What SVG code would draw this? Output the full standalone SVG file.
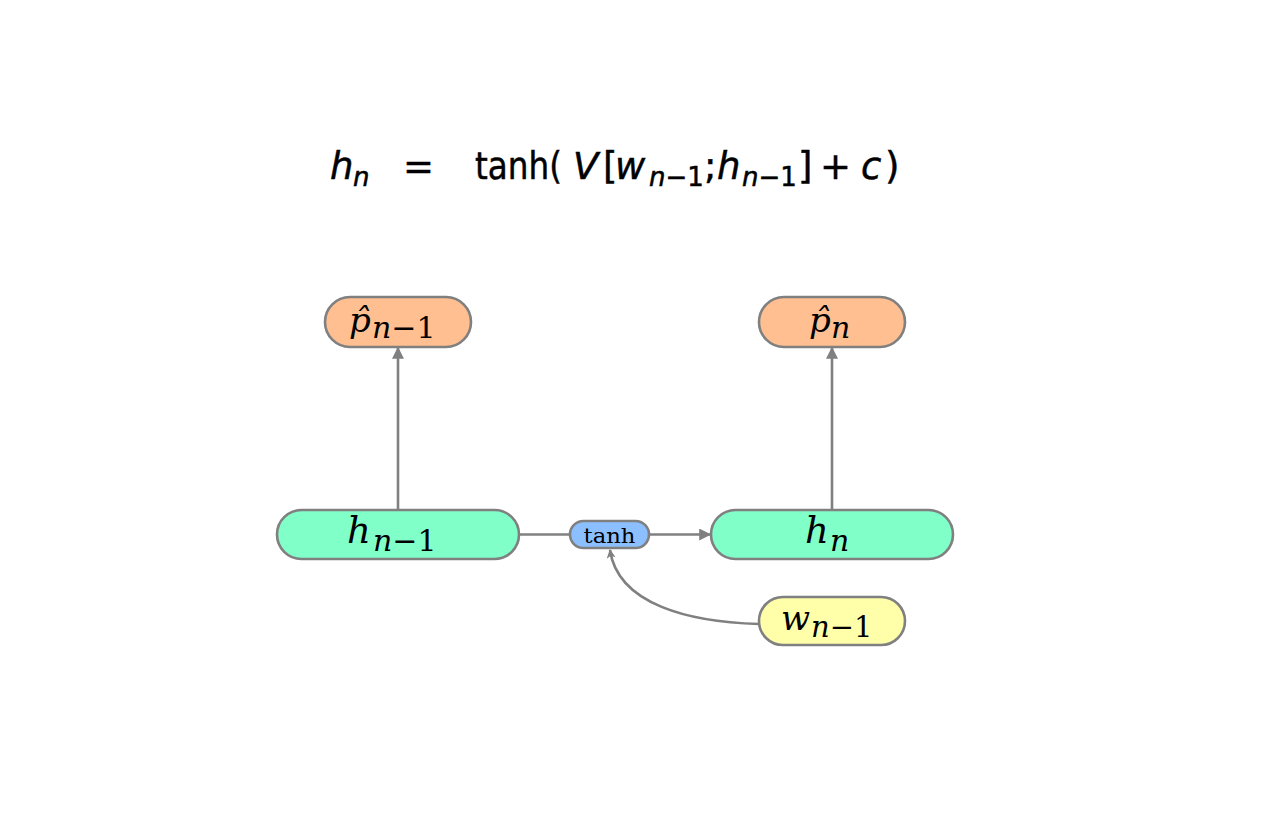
<svg xmlns="http://www.w3.org/2000/svg" width="1276" height="818" viewBox="0 0 1276 818">
<style>
.nd{stroke:#808080;stroke-width:2.6}
.o{fill:#FFBF91}.g{fill:#80FFC8}.b{fill:#8CBFFF}.y{fill:#FFFFAA}
.m{font-family:"DejaVu Serif","Liberation Serif",serif;font-style:italic;fill:#000}
.u{font-family:"DejaVu Serif","Liberation Serif",serif;fill:#000}
.e{font-family:"DejaVu Sans","Liberation Sans",sans-serif;fill:#000;font-size:37px;stroke:#000;stroke-width:0.5}
.ei{font-style:italic}
.s{font-size:26px}
.c{fill:none;stroke:#808080;stroke-width:2.6}
</style>
<defs>
<marker id="ar" viewBox="0 0 10 10" refX="9" refY="5" markerWidth="11" markerHeight="9" markerUnits="userSpaceOnUse" orient="auto">
<path d="M0,0 L10,5 L0,10 L2.5,5 z" fill="#808080"/>
</marker>
<marker id="arL" viewBox="0 0 10 10" refX="9" refY="5" markerWidth="18" markerHeight="12" markerUnits="userSpaceOnUse" orient="auto">
<path d="M0,0 L10,5 L0,10 z" fill="#808080"/>
</marker>
</defs>
<rect width="1276" height="818" fill="#fff"/>
<g id="equation" class="e">
<text x="330" y="179"><tspan class="ei">h</tspan><tspan class="ei s" x="353" y="186">n</tspan></text>
<text x="403" y="179">=</text>
<text x="475" y="179" textLength="87" lengthAdjust="spacingAndGlyphs">tanh(</text>
<text x="573" y="179"><tspan class="ei">V</tspan><tspan x="603" y="179">[</tspan><tspan class="ei" x="615" y="179">w</tspan><tspan class="s" x="649" y="186"><tspan class="ei">n</tspan>−1</tspan><tspan x="704" y="179">;</tspan><tspan class="ei" x="717" y="179">h</tspan><tspan class="s" x="742" y="186"><tspan class="ei">n</tspan>−1</tspan><tspan x="798" y="179">]</tspan><tspan x="820" y="179">+</tspan><tspan class="ei" x="861" y="179">c</tspan><tspan x="885" y="179">)</tspan></text>
</g>
<g id="connectors">
<line class="c" x1="398" y1="510" x2="398" y2="348" marker-end="url(#arL)"/>
<line class="c" x1="832" y1="510" x2="832" y2="348" marker-end="url(#arL)"/>
<line class="c" x1="519" y1="534.5" x2="570" y2="534.5"/>
<line class="c" x1="649" y1="534.5" x2="710" y2="534.5" marker-end="url(#arL)"/>
<path class="c" d="M759,624 C690,622 618,605 610,550" marker-end="url(#ar)"/>
</g>
<g id="p_nm1">
<rect class="nd o" x="325" y="297" width="146" height="50" rx="25"/>
<text class="m" x="349" y="332" font-size="34">p̂</text>
<text class="u" x="372" y="338" font-size="30"><tspan font-style="italic">n</tspan>−1</text>
</g>
<g id="p_n">
<rect class="nd o" x="759" y="297" width="146" height="50" rx="25"/>
<text class="m" x="809" y="332" font-size="34">p̂</text>
<text class="m" x="831" y="338" font-size="30">n</text>
</g>
<g id="h_nm1">
<rect class="nd g" x="277" y="510" width="242" height="49" rx="24.5"/>
<text class="m" x="347" y="543" font-size="37">h</text>
<text class="u" x="373" y="551" font-size="30"><tspan font-style="italic">n</tspan>−1</text>
</g>
<g id="h_n">
<rect class="nd g" x="711" y="510" width="242" height="49" rx="24.5"/>
<text class="m" x="805" y="543" font-size="37">h</text>
<text class="m" x="830" y="551" font-size="30">n</text>
</g>
<g id="tanh">
<rect class="nd b" x="570" y="521" width="79" height="27" rx="13.5"/>
<text x="609.5" y="543" text-anchor="middle" font-family="DejaVu Serif, Liberation Serif, serif" font-size="21" textLength="52" lengthAdjust="spacingAndGlyphs" fill="#000">tanh</text>
</g>
<g id="w_nm1">
<rect class="nd y" x="759" y="597" width="146" height="48" rx="24"/>
<text class="m" x="781" y="630" font-size="34">w</text>
<text class="u" x="811" y="637" font-size="29"><tspan font-style="italic">n</tspan>−1</text>
</g>
</svg>
